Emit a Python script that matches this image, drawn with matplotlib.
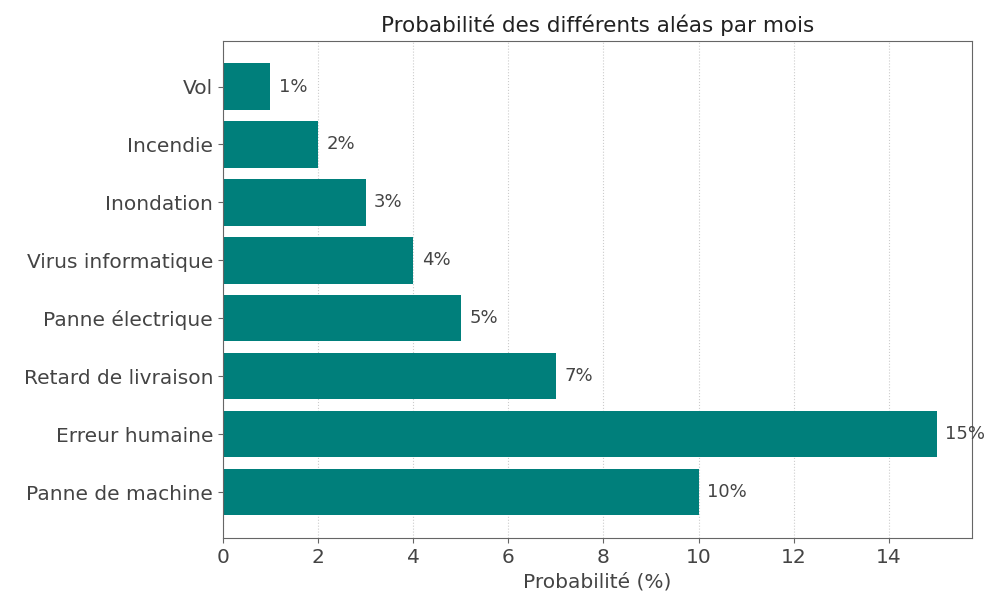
import numpy as np
import matplotlib.pyplot as plt

# données
aleas = ["Panne de machine", "Erreur humaine", "Retard de livraison", "Panne électrique",
         "Virus informatique", "Inondation", "Incendie", "Vol"]
probas = [10, 15, 7, 5, 4, 3, 2, 1]

plt.rcParams['font.family'] = ['DejaVu Sans']
txt = "#444444"
fs = 14.5

fig, ax = plt.subplots(figsize=(9.86, 5.99), dpi=100)
fig.subplots_adjust(left=0.226, right=0.986, top=0.932, bottom=0.102)

y = np.arange(len(aleas))
ax.barh(y, probas, height=0.8, color="#007f7b", zorder=2)
for yi, p in zip(y, probas):
    ax.text(p + 0.18, yi, f"{p}%", va="center", ha="left", fontsize=13, color=txt)

ax.set_yticks(y)
ax.set_yticklabels(aleas)
ax.tick_params(labelsize=fs, colors=txt)
ax.tick_params(axis="both", color="#666666")
ax.grid(axis="x", ls=":", color="#cccccc", lw=0.8, zorder=0)
for s in ax.spines.values():
    s.set_color("#666666")
ax.set_xlabel("Probabilité (%)", fontsize=fs, color=txt)
ax.set_title("Probabilité des différents aléas par mois", fontsize=15.5, color="#222222")

fig.savefig("out.png", dpi=100)
